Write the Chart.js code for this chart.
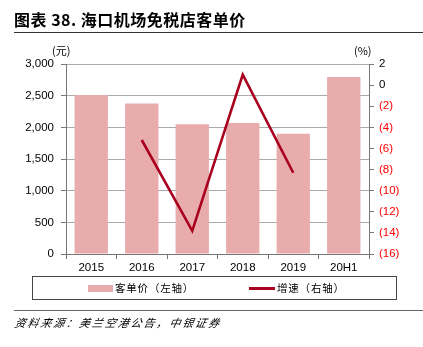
<!DOCTYPE html>
<html><head><meta charset="utf-8">
<script src="https://cdn.jsdelivr.net/npm/chart.js@4/dist/chart.umd.min.js"></script>
<style>
html,body{margin:0;padding:0;background:#fff;width:423px;height:347px;overflow:hidden;}
#wrap{position:absolute;left:0;top:0;width:423px;height:347px;}
canvas{position:absolute;left:0;top:0;}
.t{position:absolute;white-space:nowrap;}
#title{left:14px;top:7px;font:bold 16px "Noto Sans CJK SC","Liberation Sans",sans-serif;color:#000;letter-spacing:0.5px;}
#l1{position:absolute;left:14px;top:32px;width:409px;height:0;border-top:1.5px solid #333;}
#l2{position:absolute;left:14px;top:310px;width:409px;height:0;border-top:1.5px solid #666;}
.unit{font:11px "Noto Sans CJK SC","Liberation Sans",sans-serif;color:#000;top:42px;}
#legend{position:absolute;left:32px;top:276px;width:363px;height:22px;border:1.5px solid #444;}
.lg{position:absolute;font:10.5px "Noto Sans CJK SC",sans-serif;top:3px;letter-spacing:0.8px;}
#src{left:15px;top:314px;font:italic 11px "Noto Sans CJK SC",sans-serif;letter-spacing:1.9px;color:#000;transform:skewX(-12deg);transform-origin:left;}
</style></head>
<body>
<div id="wrap">
<canvas id="c" width="423" height="347"></canvas>
<div class="t" id="title">图表 38. 海口机场免税店客单价</div>
<div id="l1"></div>
<div class="t unit" style="left:52px">(元)</div>
<div class="t unit" style="left:354px">(%)</div>
<div id="legend">
  <div style="position:absolute;left:55px;top:8px;width:25px;height:7px;background:#E8ACAC"></div>
  <div class="lg" style="left:82px">客单价（左轴）</div>
  <div style="position:absolute;left:216px;top:10px;width:26px;height:2.5px;background:#A8001E"></div>
  <div class="lg" style="left:244px">增速（右轴）</div>
</div>
<div id="l2"></div>
<div class="t" id="src">资料来源：美兰空港公告，中银证券</div>
</div>
<script>
const categories = ['2015','2016','2017','2018','2019','20H1'];
const pricePerCustomer = [2510, 2375, 2050, 2070, 1900, 2795];
const growthRate = [null, -5.2, -13.8, 1.0, -8.3, null];
const leftTicks = [0, 500, 1000, 1500, 2000, 2500, 3000];
const rightTicks = [2, 0, -2, -4, -6, -8, -10, -12, -14, -16];

const tickFont = {family: '"Liberation Sans", Arial, sans-serif', size: 11.5};

new Chart(document.getElementById('c'), {
  data: {
    labels: categories,
    datasets: [
      {type:'line', label:'增速（右轴）', data: growthRate, yAxisID:'y1',
       borderColor:'#A8001E', borderWidth:2.6, pointRadius:0, fill:false, tension:0, order:0},
      {type:'bar', label:'客单价（左轴）', data: pricePerCustomer, yAxisID:'y',
       backgroundColor:'#E8ACAC', categoryPercentage:1, barPercentage:0.66, order:1}
    ]
  },
  options: {
    responsive:false, animation:false,
    layout:{padding:{top:64,left:0,right:0,bottom:0}},
    plugins:{legend:{display:false}, tooltip:{enabled:false}},
    scales:{
      x:{
        offset:true,
        grid:{offset:true, drawOnChartArea:false, color:'#777', tickLength:5},
        border:{color:'#777', width:1},
        ticks:{color:'#000', font:tickFont, padding:2},
        afterFit(s){ s.height = 347-254; }
      },
      y:{
        position:'left', min:0, max:3000,
        afterBuildTicks(s){ s.ticks = leftTicks.map(v=>({value:v})); },
        grid:{color:'#aaa', borderDash:[3,2], tickBorderDash:[], tickColor:'#777', tickLength:5, lineWidth:1},
        border:{color:'#777', width:1},
        ticks:{color:'#000', font:tickFont, padding:7,
          callback:v=>v.toLocaleString('en-US')},
        afterFit(s){ s.width = 66; }
      },
      y1:{
        position:'right', min:-16, max:2,
        afterBuildTicks(s){ s.ticks = rightTicks.map(v=>({value:v})); },
        grid:{drawOnChartArea:false, color:'#777', tickLength:5},
        border:{color:'#777', width:1},
        ticks:{font:tickFont, padding:5,
          color:ctx=> (ctx.tick && ctx.tick.value<0) ? '#FF0000' : '#000',
          callback:v=> v<0 ? '('+(-v)+')' : String(v)},
        afterFit(s){ s.width = 423-369; }
      }
    }
  }
});
</script>
</body></html>
